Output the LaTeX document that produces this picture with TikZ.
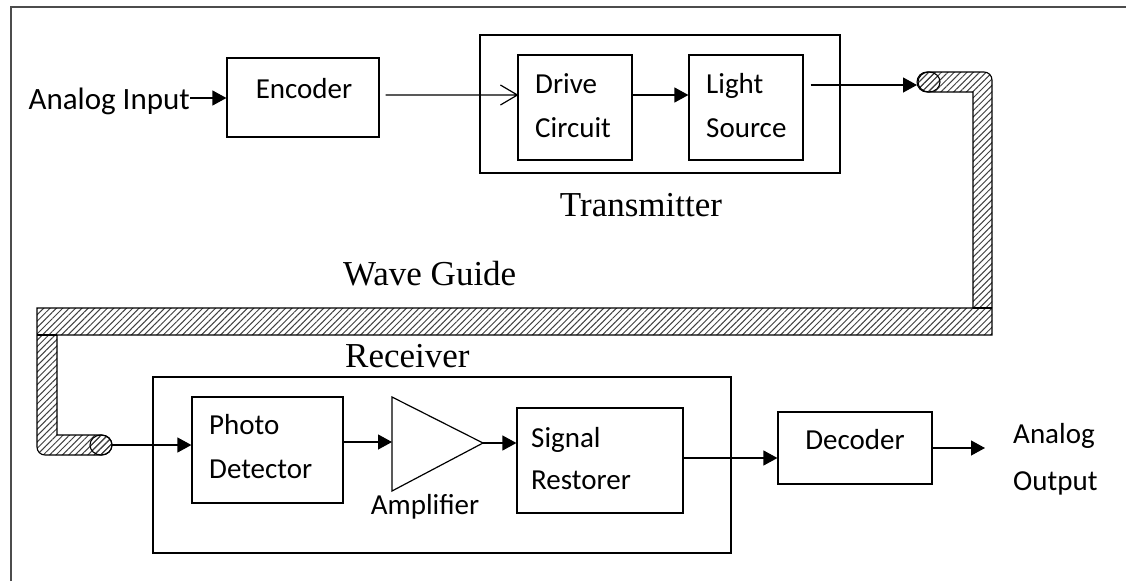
\documentclass[tikz,border=0pt]{standalone}
\usepackage{fontspec}
\setmainfont{Carlito}
\newfontfamily\tms{Liberation Serif}
\usetikzlibrary{arrows.meta,patterns.meta}
\begin{document}
\begin{tikzpicture}[x=1pt,y=-1pt,
  box/.style={draw, line width=1.2pt, inner sep=0pt},
  txt/.style={inner sep=0pt, font=\fontsize{29}{43}\selectfont},
  ttl/.style={inner sep=0pt, font=\fontsize{35}{40}\selectfont\tms},
  arr/.style={line width=1.2pt, -{Triangle[length=14pt,width=15pt]}},
  oarr/.style={line width=1.2pt},
  wg/.style={draw, line width=1.1pt, pattern={Lines[angle=45,distance=4.5pt,line width=1pt]}, pattern color=black!75},
  frame/.style={draw=black!70, line width=1.2pt}]
\useasboundingbox (0,0) rectangle (1126,581);
% outer frame (partial)
\draw[frame] (11,581) -- (11,7) -- (1126,7);

% boxes
\node[box, minimum width=152pt, minimum height=79pt] (enc) at (303,97.5) {};
\node[box, minimum width=360pt, minimum height=138pt] (tx) at (660,104) {};
\node[box, minimum width=114pt, minimum height=105pt] (drv) at (575,107.5) {};
\node[box, minimum width=114pt, minimum height=105pt] (ls) at (746,107.5) {};
\node[box, minimum width=578pt, minimum height=176pt] (rx) at (442,465) {};
\node[box, minimum width=151pt, minimum height=106pt] (pd) at (267.5,450) {};
\node[box, minimum width=166pt, minimum height=105pt] (sr) at (600,460.5) {};
\node[box, minimum width=154pt, minimum height=72pt] (dec) at (855,448) {};

% amplifier
\coordinate (ampin) at (392,443);
\coordinate (ampout) at (483,443);
\draw[line width=1.2pt] (392,397) -- (ampout) -- (392,491) -- cycle;

% texts
\node[txt, anchor=base east, font=\fontsize{31}{43}\selectfont] (ain) at (190,109) {Analog Input};
\node[txt, anchor=base] (enct) at (304,98) {Encoder};
\node[txt, anchor=base west] (drvt1) at (535,93) {Drive};
\node[txt, anchor=base west] (drvt2) at (535,137) {Circuit};
\node[txt, anchor=base west] (lst1) at (706,93) {Light};
\node[txt, anchor=base west] (lst2) at (706,137) {Source};
\node[txt, anchor=base west] (pdt1) at (209,434) {Photo};
\node[txt, anchor=base west] (pdt2) at (209,478) {Detector};
\node[txt, anchor=base west] (srt1) at (531,447) {Signal};
\node[txt, anchor=base west] (srt2) at (531,489) {Restorer};
\node[txt, anchor=base] (ampt) at (425,514) {Amplifier};
\node[txt, anchor=base] (dect) at (855,449) {Decoder};
\node[txt, anchor=base west] (aot1) at (1013,443) {Analog};
\node[txt, anchor=base west] (aot2) at (1013,490) {Output};
\node[ttl, anchor=base] (txt) at (641,216) {Transmitter};
\node[ttl, anchor=base west] (wgt) at (343,285) {Wave Guide};
\node[ttl, anchor=base west] (rxt) at (345,367) {Receiver};

% wave guide
\path[wg] (927,92) arc[start angle=90, end angle=270, radius=10]
  -- (984,72) arc[start angle=270, end angle=360, radius=8]
  -- (992,335) -- (57,335) -- (57,435)
  -- (102,435) arc[start angle=-90, end angle=90, radius=10]
  -- (45,455) arc[start angle=90, end angle=180, radius=8]
  -- (37,308) -- (973,308) -- (973,92) -- cycle;
\draw[line width=1.1pt] (973,308) -- (992,308);
\draw[line width=1.1pt] (37,335) -- (57,335);
\path[wg] (929,82) ellipse[x radius=11, y radius=10];
\path[wg] (101,445) ellipse[x radius=11, y radius=10];
\coordinate (wgin) at (917,85);
\coordinate (wgout) at (112,445);

% connectors
\draw[arr] (ain.east |- 0,98) -- (enc.west |- 0,98);
\draw[oarr] ([xshift=6pt]enc.east |- 0,95) -- (drv.west |- 0,95)
  ++(-17,-10) -- (drv.west |- 0,95) -- ++(-17,10);
\draw[arr] (drv.east |- 0,95) -- (ls.west |- 0,95);
\draw[arr] ([xshift=7pt]ls.east |- wgin) -- (wgin);
\draw[arr] (wgout) -- (pd.west |- wgout);
\draw[arr] (pd.east |- 0,442) -- (ampin |- 0,442);
\draw[arr] (ampout) -- (sr.west |- ampout);
\draw[arr] (sr.east |- 0,458) -- (dec.west |- 0,458);
\draw[arr] (dec.east |- 0,448) -- (985,448);
\end{tikzpicture}
\end{document}
